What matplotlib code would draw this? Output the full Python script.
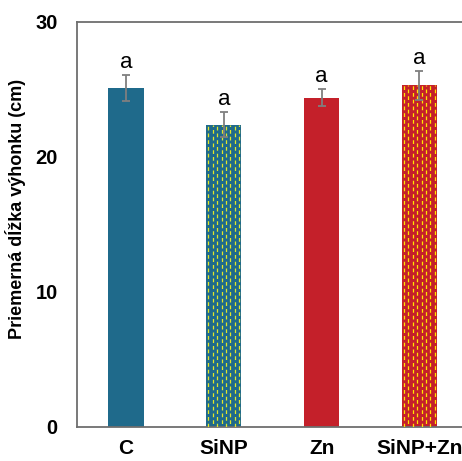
import numpy as np
from matplotlib import pyplot as plt

# priemerna dlzka vyhonku podla variantu
varianty = ["C", "SiNP", "Zn", "SiNP+Zn"]
dlzka = [25.1, 22.4, 24.4, 25.3]
chyba = [0.95, 0.9, 0.65, 1.1]
pismena = ["a", "a", "a", "a"]

modra = "#1f6a8b"
cervena = "#c4202a"
farby = [modra, modra, cervena, cervena]
vzor = [None, "#e2e82a", None, "#ffe600"]

plt.rcParams["font.family"] = ["Liberation Sans", "DejaVu Sans"]

fig = plt.figure(figsize=(4.62, 4.61), dpi=100)
ax = fig.add_axes([0.1667, 0.0738, 0.847, 0.8785])

x = np.arange(len(varianty))
sirka = 0.36
stlpce = ax.bar(x, dlzka, width=sirka, color=farby, zorder=2)
ax.errorbar(x, dlzka, yerr=chyba, fmt="none", ecolor="#7f7f7f",
            elinewidth=1.3, capsize=3, capthick=1.3, zorder=4)

# prerusovane zvisle ciarky vo vzorovanych stlpcoch
for st, c in zip(stlpce, vzor):
    if c is None:
        continue
    x0 = st.get_x()
    w = st.get_width()
    h = st.get_height()
    pocet = 8
    for i in range(pocet):
        xc = x0 + w * (i + 0.5) / pocet
        posun = 0 if i % 2 == 0 else 2.6
        ax.plot([xc, xc], [0, h], color=c, lw=0.9,
                linestyle=(posun, (3.0, 2.4)), zorder=3)

for xi, v, e, p in zip(x, dlzka, chyba, pismena):
    ax.text(xi, v + e + 0.15, p, ha="center", va="bottom", fontsize=16)

ax.set_xlim(-0.5, 3.5)
ax.set_ylim(0, 30)
ax.set_yticks([0, 10, 20, 30])
ax.set_xticks(x)
ax.set_xticklabels(varianty, fontsize=15, fontweight="bold")
ax.tick_params(axis="y", labelsize=14.5, length=0, pad=14)
ax.tick_params(axis="x", length=0, pad=9)
for lab in ax.get_yticklabels():
    lab.set_fontweight("bold")
ax.set_ylabel("Priemerná dĺžka výhonku (cm)", fontsize=13, fontweight="bold")
ax.yaxis.set_label_coords(-0.13, 0.538)
for s in ["left", "top", "bottom"]:
    ax.spines[s].set_color("#6e6e6e")
    ax.spines[s].set_linewidth(1.3)
ax.spines["right"].set_visible(False)

fig.savefig("out.png", dpi=100)
plt.close(fig)
